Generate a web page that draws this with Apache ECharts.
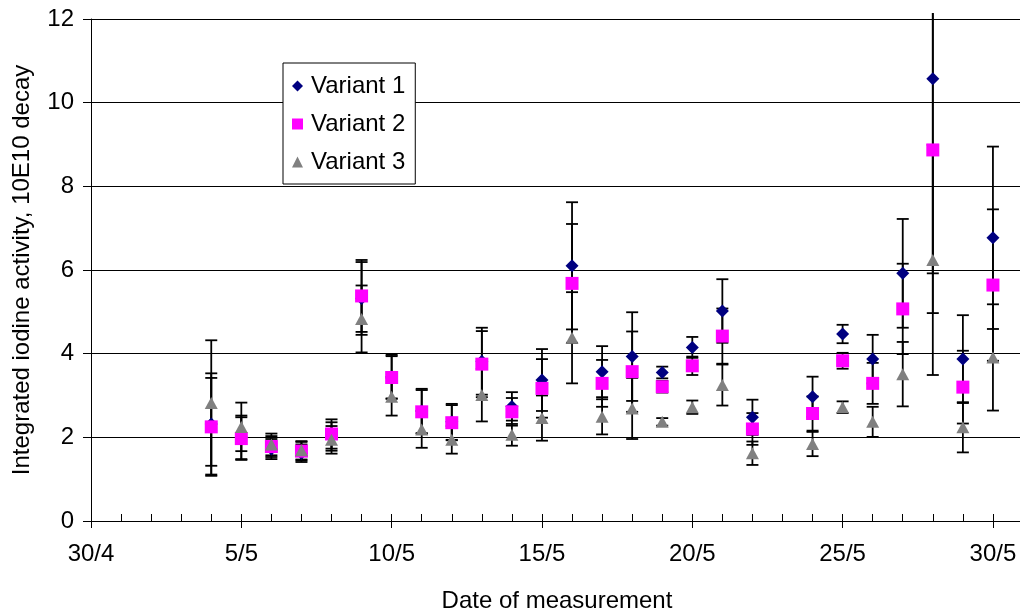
<!DOCTYPE html>
<html>
<head>
<meta charset="utf-8">
<script src="https://cdn.jsdelivr.net/npm/echarts@6/dist/echarts.min.js"></script>
<style>
  html, body { margin: 0; padding: 0; background: #fff; }
  #chart { width: 1020px; height: 613px; }
</style>
</head>
<body>
<div id="chart"></div>
<script>
// Measurement days (day of May; 30/4 is day 0 on the axis)
const days = [4, 5, 6, 7, 8, 9, 10, 11, 12, 13, 14, 15, 16, 17, 18, 19, 20, 21, 22, 24, 25, 26, 27, 28, 29, 30];

// Integrated iodine activity, 10E10 decay, with ± error per point
const variant1 = [2.32, 2.00, 1.72, 1.62, 2.02, 5.32, 3.45, 2.63, 2.37, 3.82, 2.74, 3.37, 6.10, 3.57, 3.93, 3.55, 4.15, 5.02, 2.48, 2.97, 4.47, 3.87, 5.92, 10.57, 3.87, 6.77];
const variant1Err = [1.21, 0.52, 0.24, 0.21, 0.34, 0.87, 0.52, 0.53, 0.43, 0.80, 0.34, 0.74, 1.52, 0.61, 1.06, 0.14, 0.25, 0.76, 0.42, 0.48, 0.22, 0.58, 1.30, 4.65, 1.05, 2.18];

const variant2 = [2.25, 1.97, 1.78, 1.67, 2.08, 5.38, 3.43, 2.61, 2.35, 3.75, 2.61, 3.17, 5.68, 3.29, 3.57, 3.21, 3.71, 4.42, 2.20, 2.57, 3.83, 3.29, 5.07, 8.87, 3.20, 5.64];
const variant2Err = [1.17, 0.51, 0.25, 0.22, 0.35, 0.86, 0.51, 0.52, 0.42, 0.79, 0.33, 0.70, 1.42, 0.56, 0.96, 0.14, 0.22, 0.66, 0.38, 0.41, 0.19, 0.49, 1.08, 3.90, 0.87, 1.81];

const variant3 = [2.82, 2.25, 1.83, 1.69, 1.94, 4.83, 2.97, 2.19, 1.94, 3.01, 2.06, 2.46, 4.38, 2.49, 2.69, 2.37, 2.72, 3.25, 1.62, 1.84, 2.72, 2.37, 3.51, 6.24, 2.24, 3.91];
const variant3Err = [1.50, 0.58, 0.26, 0.22, 0.33, 0.80, 0.45, 0.44, 0.33, 0.63, 0.26, 0.54, 1.09, 0.42, 0.73, 0.09, 0.16, 0.49, 0.28, 0.29, 0.14, 0.36, 0.77, 2.75, 0.60, 1.27];

// Axis tick labels
const xTickValues = [0, 5, 10, 15, 20, 25, 30];
const xTickLabels = ['30/4', '5/5', '10/5', '15/5', '20/5', '25/5', '30/5'];

const Y_MAX = 12;
const FONT = 'Arial, "Liberation Sans", sans-serif';
const FONT_SIZE = 24;

function points(values) {
  return days.map((d, i) => [d, values[i]]);
}
function errPoints(values, errs) {
  return days.map((d, i) => [d, values[i], errs[i]]);
}

// Vertical error bar with caps; clipped just above the top of the plot
function renderErrorBar(params, api) {
  const x = api.value(0);
  const y = api.value(1);
  const e = api.value(2);
  const pHi = api.coord([x, y + e]);
  const pLo = api.coord([x, y - e]);
  const topClip = api.coord([x, Y_MAX])[1] - 6;
  const clipped = pHi[1] < topClip;
  const yTop = clipped ? topClip : pHi[1];
  const half = 6;
  const style = { stroke: '#000', lineWidth: 1.8 };
  const children = [
    { type: 'line', shape: { x1: pLo[0], y1: pLo[1], x2: pLo[0], y2: yTop }, style: style },
    { type: 'line', shape: { x1: pLo[0] - half, y1: pLo[1], x2: pLo[0] + half, y2: pLo[1] }, style: style }
  ];
  if (!clipped) {
    children.push({ type: 'line', shape: { x1: pHi[0] - half, y1: pHi[1], x2: pHi[0] + half, y2: pHi[1] }, style: style });
  }
  return { type: 'group', children: children };
}

function errorSeries(name, values, errs) {
  return {
    name: name,
    type: 'custom',
    renderItem: renderErrorBar,
    encode: { x: 0, y: 1 },
    data: errPoints(values, errs),
    silent: true,
    z: 1
  };
}

const chart = echarts.init(document.getElementById('chart'), null, { renderer: 'canvas' });

chart.setOption({
  animation: false,
  backgroundColor: '#fff',
  grid: { left: 91, top: 19, width: 932, height: 502, containLabel: false, outerBoundsMode: 'none' },
  legend: {
    orient: 'vertical',
    left: 283,
    top: 63,
    padding: [11, 10, 10, 9],
    itemGap: 14,
    itemWidth: 11,
    itemHeight: 11,
    backgroundColor: '#fff',
    borderColor: '#000',
    borderWidth: 1,
    textStyle: { fontFamily: FONT, fontSize: FONT_SIZE, color: '#000', lineHeight: 24, padding: [0, 0, 0, 3] },
    data: [
      { name: 'Variant 1', icon: 'diamond' },
      { name: 'Variant 2', icon: 'rect' },
      { name: 'Variant 3', icon: 'triangle' }
    ]
  },
  xAxis: [
    {
      type: 'value',
      min: 0,
      max: 31,
      interval: 5,
      name: 'Date of measurement',
      nameLocation: 'middle',
      nameGap: 68,
      nameTextStyle: { fontFamily: FONT, fontSize: FONT_SIZE, color: '#000' },
      axisLine: { show: true, onZero: false, lineStyle: { color: '#000', width: 1 } },
      axisTick: { show: true, inside: false, length: 7, lineStyle: { color: '#000', width: 1 } },
      axisLabel: {
        fontFamily: FONT, fontSize: FONT_SIZE, color: '#000', margin: 21,
        showMaxLabel: false,
        formatter: function (v) {
          const i = xTickValues.indexOf(v);
          return i >= 0 ? xTickLabels[i] : '';
        }
      },
      splitLine: { show: false }
    },
    {
      // daily minor ticks (and the inner half of the major ticks)
      type: 'value',
      position: 'bottom',
      min: 0,
      max: 31,
      interval: 1,
      axisLine: { show: false, onZero: false },
      axisTick: { show: true, inside: true, length: 7, lineStyle: { color: '#000', width: 1 } },
      axisLabel: { show: false },
      splitLine: { show: false }
    }
  ],
  yAxis: {
    type: 'value',
    min: 0,
    max: Y_MAX,
    interval: 2,
    name: 'Integrated iodine activity, 10E10 decay',
    nameLocation: 'middle',
    nameGap: 57,
    nameTextStyle: { fontFamily: FONT, fontSize: FONT_SIZE, color: '#000' },
    axisLine: { show: true, lineStyle: { color: '#000', width: 1 } },
    axisTick: { show: true, inside: false, length: 8, lineStyle: { color: '#000', width: 1 } },
    axisLabel: { fontFamily: FONT, fontSize: FONT_SIZE, color: '#000', margin: 17 },
    splitLine: { show: true, lineStyle: { color: '#000', width: 1 } }
  },
  series: [
    errorSeries('err1', variant1, variant1Err),
    errorSeries('err2', variant2, variant2Err),
    errorSeries('err3', variant3, variant3Err),
    {
      name: 'Variant 1',
      type: 'scatter',
      symbol: 'diamond',
      symbolSize: [13, 13],
      itemStyle: { color: '#000080', opacity: 1 },
      data: points(variant1),
      z: 3
    },
    {
      name: 'Variant 2',
      type: 'scatter',
      symbol: 'rect',
      symbolSize: [13, 13],
      itemStyle: { color: '#FF00FF', opacity: 1 },
      data: points(variant2),
      z: 4
    },
    {
      name: 'Variant 3',
      type: 'scatter',
      symbol: 'triangle',
      symbolSize: [13, 12],
      itemStyle: { color: '#808080', opacity: 1 },
      data: points(variant3),
      z: 5
    }
  ]
});
</script>
</body>
</html>
